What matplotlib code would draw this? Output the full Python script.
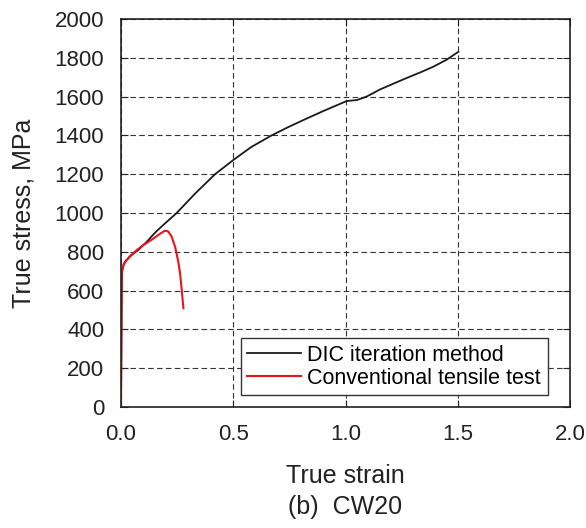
import matplotlib.pyplot as plt

plt.rcParams['font.family'] = ['Liberation Sans', 'DejaVu Sans']

# DIC iteration method
dic_strain = [0.0, 0.002, 0.004, 0.006, 0.012, 0.02, 0.04, 0.08, 0.12, 0.14, 0.16, 0.188, 0.248,
              0.33, 0.419, 0.5, 0.58, 0.671, 0.74, 0.812, 0.9, 1.005, 1.03, 1.05,
              1.094, 1.154, 1.22, 1.287, 1.34, 1.391, 1.45, 1.503]
dic_stress = [0.0, 400, 650, 705, 735, 750, 778, 812, 858, 884, 908, 938, 1000,
              1100, 1200, 1273, 1340, 1400, 1440, 1479, 1525, 1577, 1580, 1582,
              1600, 1637, 1670, 1703, 1728, 1754, 1790, 1831]

# Conventional tensile test
ct_strain = [0.0, 0.002, 0.003, 0.006, 0.018, 0.04, 0.07, 0.1, 0.14, 0.17, 0.196, 0.21,
             0.225, 0.241, 0.255, 0.263, 0.27, 0.278]
ct_stress = [0.0, 400, 680, 715, 749, 775, 809, 835, 865, 890, 909, 905,
             880, 826, 750, 690, 610, 509]

fig = plt.figure(figsize=(5.86, 5.28), dpi=100)
ax = fig.add_axes([121/586, 121/528, 449/586, 388/528])

ax.plot(dic_strain, dic_stress, color='#1a1a1a', lw=1.3, label='DIC iteration method')
ax.plot(ct_strain, ct_stress, color='#e8141c', lw=1.5, label='Conventional tensile test')

ax.set_xlim(0, 2.0)
ax.set_ylim(0, 2000)
ax.set_xticks([0, 0.5, 1.0, 1.5, 2.0])
ax.set_xticklabels(['0.0', '0.5', '1.0', '1.5', '2.0'])
ax.set_yticks(range(0, 2001, 200))
ax.tick_params(direction='in', top=True, right=True, labelsize=16, length=5,
               pad=12, colors='#222222')
ax.tick_params(axis='x', pad=12)

ax.grid(color='#333333', linestyle=(0, (5, 3)), linewidth=0.8)

for s in ax.spines.values():
    s.set_linewidth(1.2)
    s.set_color('#222222')

ax.set_ylabel('True stress, MPa', fontsize=18, labelpad=14, color='#222222')
ax.set_xlabel('True strain', fontsize=18, labelpad=14, color='#222222')
fig.text((121 + 570) / 2 / 586, 1 - 507 / 528, '(b)  CW20', fontsize=18,
         ha='center', va='center', color='#222222')

leg = ax.legend(loc='lower right', bbox_to_anchor=(0.95, 0.03), fontsize=15.5,
                fancybox=False, edgecolor='#333333', framealpha=1,
                handlelength=2.5, borderpad=0.3, labelspacing=0.1, handletextpad=0.3,
                borderaxespad=0)
leg.get_frame().set_linewidth(1.0)

fig.savefig('out.png', dpi=100)
